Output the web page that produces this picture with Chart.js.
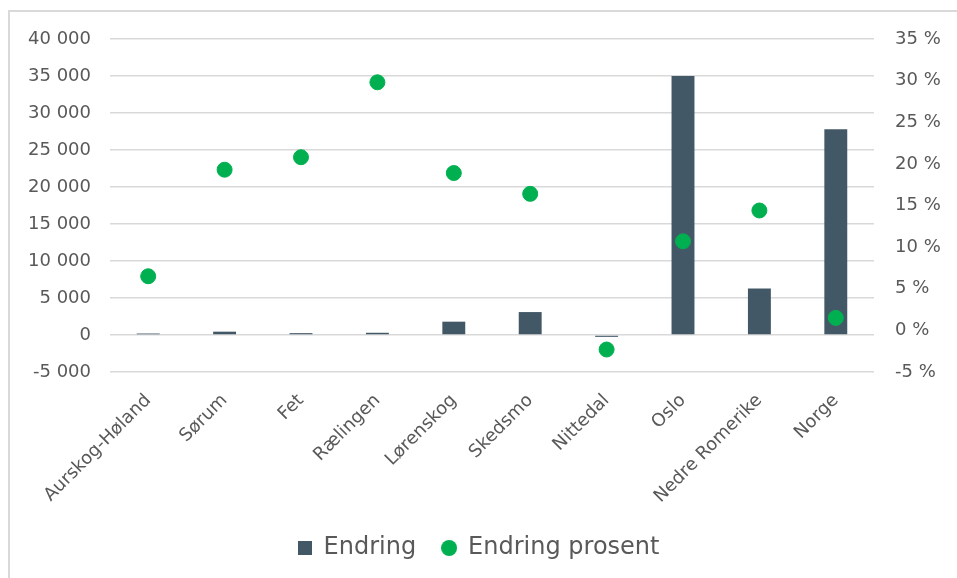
<!DOCTYPE html>
<html>
<head>
<meta charset="utf-8">
<script src="https://cdn.jsdelivr.net/npm/chart.js@4/dist/chart.umd.min.js"></script>
<style>
  html, body { margin: 0; padding: 0; background: #fff; overflow: hidden; }
  #frame { position: absolute; left: 8px; top: 10px; width: 1200px; height: 1000px; border: 2px solid #d9d9d9; box-sizing: border-box; }
  #wrap { position: absolute; left: 0; top: 0; width: 957px; height: 578px; }
</style>
</head>
<body>
<div id="frame"></div>
<div id="wrap"><canvas id="chart" width="957" height="578"></canvas></div>
<script>
// Categories and values
const kommuner = ["Aurskog-Høland", "Sørum", "Fet", "Rælingen", "Lørenskog", "Skedsmo", "Nittedal", "Oslo", "Nedre Romerike", "Norge"];
const endring = [200, 450, 250, 300, 1800, 3100, -250, 35000, 6300, 27800];
const endringProsent = [6.5, 19.3, 20.8, 29.8, 18.9, 16.4, -2.3, 10.7, 14.4, 1.5];

const barColor = '#435867';
const dotColor = '#00b050';
const textColor = '#595959';
const gridColor = '#d9d9d9';
const fontFamily = '"DejaVu Sans", Verdana, sans-serif';

function formatThousands(v) {
    const s = Math.abs(v).toString().replace(/\B(?=(\d{3})+(?!\d))/g, ' ');
    return (v < 0 ? '-' : '') + s;
}

// legend markers: small square and a dot
function makeMarker(shape, size, color) {
    const c = document.createElement('canvas');
    c.width = size; c.height = size;
    const g = c.getContext('2d');
    g.fillStyle = color;
    if (shape === 'square') {
        g.fillRect(0, 0, size, size);
    } else {
        g.beginPath();
        g.arc(size / 2, size / 2, size / 2, 0, Math.PI * 2);
        g.fill();
    }
    return c;
}
const squareMarker = makeMarker('square', 14, barColor);
const dotMarker = makeMarker('circle', 16, dotColor);

const ctx = document.getElementById('chart').getContext('2d');
new Chart(ctx, {
    data: {
        labels: kommuner,
        datasets: [{
            type: 'bar',
            label: 'Endring',
            data: endring,
            backgroundColor: barColor,
            barPercentage: 0.3,
            categoryPercentage: 1,
            yAxisID: 'y',
            order: 1
        }, {
            type: 'line',
            label: 'Endring prosent',
            data: endringProsent,
            showLine: false,
            pointRadius: 7.5,
            pointHoverRadius: 7.5,
            pointBackgroundColor: dotColor,
            pointBorderColor: dotColor,
            backgroundColor: dotColor,
            borderColor: dotColor,
            yAxisID: 'y1',
            order: 0
        }]
    },
    options: {
        responsive: false,
        animation: false,
        layout: { padding: { top: 39, left: 0, right: 0, bottom: 8 } },
        plugins: {
            tooltip: { enabled: false },
            legend: {
                position: 'bottom',
                labels: {
                    usePointStyle: true,
                    boxHeight: 14,
                    boxWidth: 14,
                    padding: 26,
                    color: textColor,
                    font: { family: fontFamily, size: 24 },
                    generateLabels: (chart) => {
                        const items = Chart.defaults.plugins.legend.labels.generateLabels(chart);
                        items.sort((a, b) => a.datasetIndex - b.datasetIndex);
                        items.forEach((it) => {
                            it.pointStyle = it.datasetIndex === 0 ? squareMarker : dotMarker;
                        });
                        return items;
                    }
                }
            }
        },
        scales: {
            x: {
                grid: { display: false },
                border: { display: false },
                ticks: {
                    color: textColor,
                    font: { family: fontFamily, size: 18 },
                    maxRotation: 45,
                    minRotation: 45,
                    padding: 10,
                    autoSkip: false
                },
                afterFit: (scale) => { scale.height = 138; }
            },
            y: {
                position: 'left',
                min: -5000,
                max: 40000,
                ticks: {
                    stepSize: 5000,
                    color: textColor,
                    font: { family: fontFamily, size: 18 },
                    padding: 19,
                    callback: (v) => formatThousands(v)
                },
                grid: { color: gridColor, lineWidth: 1.5, drawTicks: false },
                border: { display: false },
                afterFit: (scale) => { scale.width = 110; }
            },
            y1: {
                position: 'right',
                min: -5,
                max: 35,
                ticks: {
                    stepSize: 5,
                    color: textColor,
                    font: { family: fontFamily, size: 18 },
                    padding: 21,
                    callback: (v) => v + ' %'
                },
                grid: { drawOnChartArea: false, drawTicks: false },
                border: { display: false },
                afterFit: (scale) => { scale.width = 83; }
            }
        }
    }
});
</script>
</body>
</html>
